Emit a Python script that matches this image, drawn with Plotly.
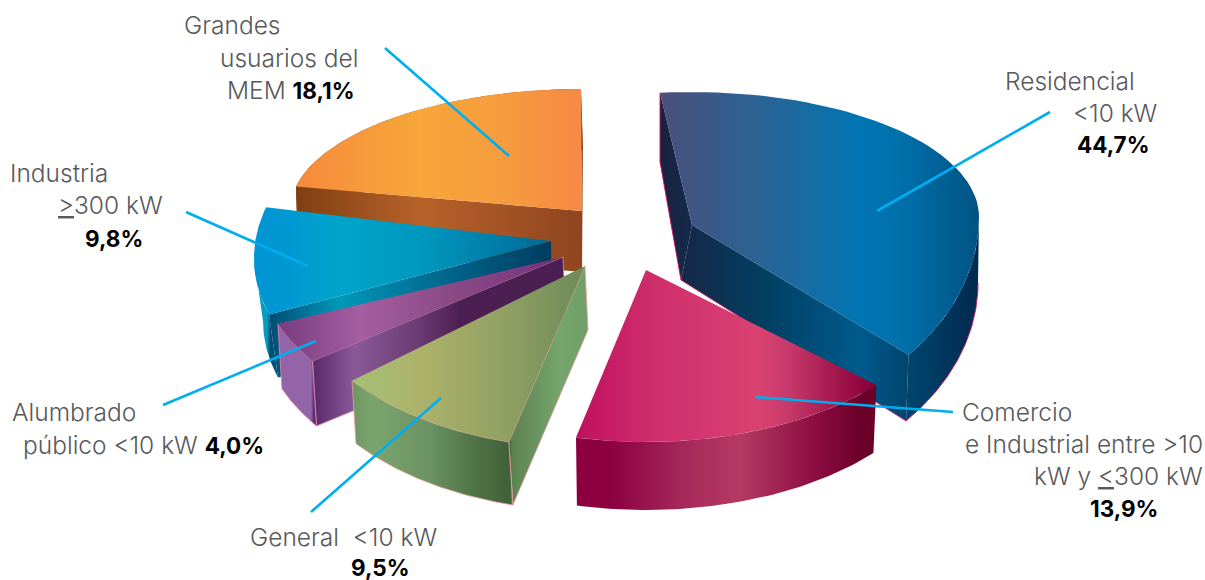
import math
import plotly.graph_objects as go

# ---------- data ----------
categories = ["Residencial", "Comercio", "General", "Alumbrado", "Industria", "Grandes"]
shares = [44.7, 13.9, 9.5, 4.0, 9.8, 18.1]


def pct(name):
    return f"{shares[categories.index(name)]:.1f}".replace(".", ",") + "%"


# ---------- appearance of each slice (illustration geometry, in page pixels) ----------
STYLE = {
    "Residencial": dict(
        apex=(692, 225), centre=(692, 217), rx=287, ry_back=125, ry_front=210,
        t0=96.4, scale=0.854, d_arc=(-7, 66), d_apex=(-11, 55), drx=6, wall_from=0,
        walls=["t0", "t1"], edge=None,
        top=[(660, "#4b4f7c"), (760, "#2a6394"), (860, "#0075b3"), (900, "#0070ab"), (980, "#005384")],
        wall=[(660, "#1c2140"), (765, "#013f62"), (860, "#005a8c"), (905, "#00466f"), (975, "#002b50")],
    ),
    "Comercio": dict(
        apex=(646, 270), centre=(646, 270), rx=310, ry_back=172, ry_front=172,
        t0=-42, scale=1.22, d_arc=(0, 68), d_apex=(0, 67), drx=-4, wall_from=None,
        walls=[], edge=None,
        top=[(577, "#c0105f"), (650, "#ce2d6c"), (760, "#da4271"), (785, "#c83b6c"), (870, "#8a0038")],
        wall=[(577, "#8c0040"), (610, "#8c0040"), (680, "#a5275a"), (740, "#b53a62"), (820, "#8a0a3f"), (860, "#6b0028")],
    ),
    "General": dict(
        apex=(585, 266), centre=(585, 266), rx=300, ry_back=182, ry_front=182,
        t0=-104.7, scale=1.06, d_arc=(4, 63), d_apex=(3, 64), drx=0, wall_from=None,
        walls=["t0"], edge="#e8a0a0",
        top=[(351, "#a5c077"), (420, "#acb26a"), (510, "#8f9f63"), (585, "#6c8a58")],
        wall=[(351, "#6d9563"), (372, "#7ba56e"), (430, "#6a9263"), (470, "#527747"), (510, "#41603a"), (512, "#5e8352"), (560, "#75a56c"), (590, "#6f9f66")],
    ),
    "Alumbrado": dict(
        apex=(563, 257), centre=(563, 257), rx=307, ry_back=180, ry_front=180,
        t0=-144.7, scale=0.94, d_arc=(4, 65), d_apex=(3, 66), drx=0, wall_from=None,
        walls=["t0"], edge="#e88aa8",
        top=[(279, "#7a3c80"), (360, "#a55ea0"), (450, "#8a4a85"), (530, "#7b3a7f"), (563, "#6a2f70")],
        wall=[(280, "#9464a8"), (311, "#9464a8"), (314, "#5a2a6e"), (355, "#8a5a98"), (420, "#6a3a72"), (460, "#4c1f52"), (565, "#4c1f52")],
    ),
    "Industria": dict(
        apex=(551, 241), centre=(551, 258), rx=297, ry_back=180, ry_front=180,
        t0=-161.7, scale=0.983, d_arc=(9, 63), d_apex=(1, 62), drx=0, wall_from=None,
        walls=["t0"], edge=None,
        top=[(254, "#0095d4"), (290, "#0098d2"), (340, "#00a5c9"), (420, "#0098be"), (500, "#007ca8"), (551, "#006890")],
        wall=[(254, "#009fc2"), (267, "#009fc2"), (270, "#004d73"), (340, "#0098ba"), (450, "#00648a"), (552, "#003c60")],
    ),
    "Grandes": dict(
        apex=(582, 211), centre=(582, 211), rx=292, ry_back=122, ry_front=122,
        t0=168.4, scale=1.2, d_arc=(2, 61), d_apex=(0, 61), drx=0, wall_from=None,
        walls=["t0", "t1"], edge=None,
        top=[(296, "#f68a3c"), (420, "#f7a63a"), (500, "#f59d3e"), (575, "#f78a44")],
        wall=[(296, "#7f3f12"), (420, "#b8622a"), (582, "#8f4520"), (586, "#7f4a14")],
    ),
}
DRAW_ORDER = ["Grandes", "Industria", "Alumbrado", "General", "Residencial", "Comercio"]
LEADER = "#00aeef"
LEADERS = [
    (1050, 112, 877, 211), (953, 412, 755, 397), (441, 398, 311, 512),
    (316, 341, 163, 405), (186, 212, 308, 266), (385, 48, 509, 156),
]
TEXT = "#58595b"


def bold(name):
    return f"<b style='color:#000000;font-size:22.5px'>{pct(name)}</b>"


LABELS = [
    ("Grandes", 184, 25, "left"),
    ("usuarios del", 358, 58, "right"),
    (f"MEM {bold('Grandes')}", 355, 90, "right"),
    ("Residencial", 1005, 81, "left"),
    ("&lt;10 kW", 1157, 113, "right"),
    (bold("Residencial"), 1150, 144, "right"),
    ("Industria", 10, 173, "left"),
    ("<u>&gt;</u>300 kW", 163, 205, "right"),
    (bold("Industria"), 143, 238, "right"),
    ("Alumbrado", 12, 412, "left"),
    (f"público &lt;10 kW {bold('Alumbrado')}", 264, 445, "right"),
    ("General  &lt;10 kW", 437, 537, "right"),
    (bold("General"), 410, 567, "right"),
    ("Comercio", 962, 412, "left"),
    ("e Industrial entre &gt;10", 1203, 444, "right"),
    ("kW y <u>&lt;</u>300 kW", 1203, 476, "right"),
    (bold("Comercio"), 1158, 508, "right"),
]


# ---------- geometry helpers ----------
def arc(s, t_a, t_b, dx=0, dy=0, drx=0, n=60):
    out = []
    for i in range(n + 1):
        t = t_a + (t_b - t_a) * i / n
        sin_t = math.sin(math.radians(t))
        ry = s["ry_back"] if sin_t > 0 else s["ry_front"]
        out.append((s["centre"][0] + dx + (s["rx"] + drx) * math.cos(math.radians(t)),
                    s["centre"][1] + dy - ry * sin_t))
    return out


def gradient(stops):
    lo, hi = stops[0][0], stops[-1][0]
    return dict(type="horizontal", start=lo, stop=hi,
                colorscale=[[(x - lo) / (hi - lo), c] for x, c in stops])


def poly(fig, pts, stops, edge=None):
    xs = [p[0] for p in pts] + [pts[0][0]]
    ys = [p[1] for p in pts] + [pts[0][1]]
    fig.add_trace(go.Scatter(
        x=xs, y=ys, mode="lines", fill="toself",
        fillgradient=gradient(stops),
        line=dict(width=0.8 if edge else 0, color=edge or "rgba(0,0,0,0)"),
        hoverinfo="skip", showlegend=False,
    ))


fig = go.Figure()
for name in DRAW_ORDER:
    s = STYLE[name]
    share = shares[categories.index(name)]
    t0 = s["t0"]
    t1 = t0 - share * 3.6 * s["scale"]
    ax, ay = s["apex"]
    dax, day = s["d_apex"]
    dx, dy = s["d_arc"]
    back_bottom = None
    for key in s["walls"]:
        t = t0 if key == "t0" else t1
        c = arc(s, t, t, n=1)[0]
        b = arc(s, t, t, dx, dy, s["drx"], n=1)[0]
        if name == "Residencial" and key == "t0":
            b = (c[0], c[1] + 69)
            back_bottom = [c, b]
        poly(fig, [c, (ax, ay), (ax + dax, ay + day), b], s["wall"], s["edge"])
    if name == "Residencial":
        a, b_ = s["wall_from"], t1
    elif name == "Industria":
        a, b_ = t0, -180
    else:
        a, b_ = t0, t1
    top_arc = arc(s, a, b_)
    bot_arc = arc(s, a, b_, dx, dy, s["drx"])
    poly(fig, top_arc + bot_arc[::-1], s["wall"], s["edge"])
    poly(fig, [(ax, ay)] + arc(s, t0, t1), s["top"])
    if name == "Residencial":
        rim = back_bottom + [(ax + dax, ay + day)] + bot_arc[::-1]
        fig.add_trace(go.Scatter(
            x=[p[0] for p in rim], y=[p[1] for p in rim], mode="lines",
            line=dict(width=0.9, color="#c8105f"), hoverinfo="skip", showlegend=False,
        ))

for x0, y0, x1, y1 in LEADERS:
    fig.add_shape(type="line", x0=x0, y0=y0, x1=x1, y1=y1, xref="x", yref="y",
                  line=dict(color=LEADER, width=2.6), layer="above")

for text, x, y, anchor in LABELS:
    fig.add_annotation(x=x, y=y, text=text, xref="x", yref="y", showarrow=False,
                       xanchor=anchor, yanchor="middle", borderpad=0, borderwidth=0,
                       font=dict(family="Inter", size=24.5, color=TEXT, weight=300))

fig.update_layout(
    width=1205, height=580, margin=dict(l=0, r=0, t=0, b=0),
    paper_bgcolor="white", plot_bgcolor="white",
    xaxis=dict(range=[0, 1205], visible=False, fixedrange=True),
    yaxis=dict(range=[580, 0], visible=False, fixedrange=True),
    showlegend=False,
)
fig.write_html("out.html", config=dict(displayModeBar=False),
               post_script="document.body.style.margin='0';")
